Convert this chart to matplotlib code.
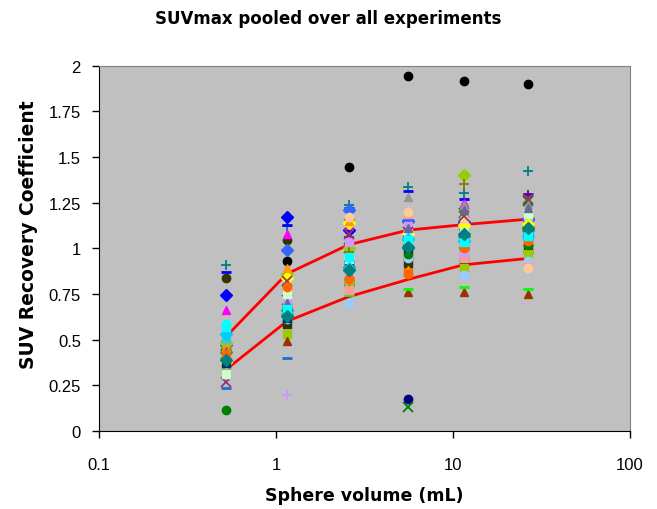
import numpy as np
import matplotlib.pyplot as plt

plt.rcParams['font.family'] = ['Liberation Sans', 'DejaVu Sans']

# sphere volumes (mL)
volumes = [0.52, 1.15, 2.57, 5.58, 11.49, 26.52]

# red envelope lines
upper_line = [0.515, 0.86, 1.02, 1.10, 1.13, 1.16]
lower_line = [0.335, 0.60, 0.735, 0.83, 0.91, 0.945]

# recovery coefficients per experiment, one value per sphere
exp01 = [0.47, 0.93, 1.445, 1.945, 1.915, 1.90]
exp02 = [0.91, 1.125, 1.24, 1.335, 1.305, 1.425]
exp03 = [0.87, 1.13, 1.22, 1.315, 1.27, 1.30]
exp04 = [0.235, 0.40, 0.80, 0.95, 1.00, 1.05]
exp05 = [0.84, 1.047, 1.16, 1.07, 1.10, 1.02]
exp06 = [0.745, 1.17, 1.10, 1.15, 1.145, 1.16]
exp07 = [0.47, 0.99, 1.21, 1.15, 1.14, 1.16]
exp08 = [0.66, 1.08, 1.13, 1.12, 1.25, 1.20]
exp09 = [0.586, 0.70, 0.96, 1.05, 1.037, 1.07]
exp10 = [0.55, 0.88, 1.16, 1.12, 1.12, 1.135]
exp11 = [0.49, 0.83, 1.06, 1.09, 1.10, 1.29]
exp12 = [0.45, 0.78, 0.82, 0.87, 1.005, 1.05]
exp13 = [0.40, 0.74, 0.96, 1.03, 1.08, 1.20]
exp14 = [0.43, 0.66, 0.90, 1.00, 1.07, 1.10]
exp15 = [0.395, 0.586, 0.82, 0.92, 0.93, 0.99]
exp16 = [0.34, 0.53, 0.80, 0.96, 0.89, 0.97]
exp17 = [0.36, 0.495, 0.78, 0.76, 0.76, 0.75]
exp18 = [0.32, 0.60, 0.745, 0.78, 0.79, 0.78]
exp19 = [0.28, 0.615, 0.70, 0.95, 0.855, 0.93]
exp20 = [0.29, 0.197, 1.035, 1.09, 0.98, 1.10]
exp21 = [0.117, 0.65, 0.88, 0.97, 1.00, 1.02]
exp22 = [0.38, 0.68, 0.93, 0.175, 1.07, 1.08]
exp23 = [0.42, 0.72, 1.00, 0.13, 1.195, 1.26]
exp24 = [0.36, 0.76, 0.77, 1.28, 1.235, 1.235]
exp25 = [0.48, 0.86, 1.00, 1.05, 1.40, 1.12]
exp26 = [0.44, 0.80, 0.98, 1.02, 1.35, 1.14]
exp27 = [0.30, 0.69, 0.77, 1.19, 0.95, 0.90]
exp28 = [0.52, 0.72, 1.035, 1.12, 0.98, 1.18]
exp29 = [0.50, 0.64, 0.92, 1.04, 1.07, 1.10]
exp30 = [0.38, 0.84, 1.14, 1.08, 1.13, 1.135]
exp31 = [0.46, 0.89, 1.15, 0.88, 1.01, 1.06]
exp32 = [0.37, 0.62, 0.91, 1.00, 1.06, 1.09]
exp33 = [0.41, 0.77, 1.17, 1.20, 1.16, 0.89]
exp34 = [0.27, 0.82, 1.08, 1.09, 1.18, 1.27]
exp35 = [0.31, 0.75, 0.94, 1.06, 1.09, 1.19]
exp36 = [0.53, 0.64, 0.89, 1.05, 1.04, 1.07]
exp37 = [0.44, 0.70, 0.86, 1.11, 1.21, 1.22]
exp38 = [0.42, 0.79, 0.83, 0.86, 1.00, 1.04]
exp39 = [0.57, 0.67, 0.955, 1.045, 1.035, 1.07]
exp40 = [0.39, 0.63, 0.88, 1.01, 1.08, 1.11]

experiments = [exp01, exp02, exp03, exp04, exp05, exp06, exp07, exp08, exp09,
               exp10, exp11, exp12, exp13, exp14, exp15, exp16, exp17, exp18,
               exp19, exp20, exp21, exp22, exp23, exp24, exp25, exp26, exp27,
               exp28, exp29, exp30, exp31, exp32, exp33, exp34, exp35, exp36,
               exp37, exp38, exp39, exp40]

styles = [
    ('o', '#000000'), ('+', '#008080'), ('_', '#0000FF'), ('_', '#1E6ED0'),
    ('o', '#333300'), ('D', '#0000FF'), ('D', '#3366FF'), ('^', '#FF00FF'),
    ('o', '#00FFFF'), ('^', '#FFCC00'), ('+', '#800080'), ('s', '#FF6600'),
    ('s', '#CCFFFF'), ('D', '#339966'), ('s', '#333300'), ('s', '#99CC00'),
    ('^', '#993300'), ('_', '#00FF00'), ('o', '#99CCFF'), ('+', '#CC99FF'),
    ('o', '#008000'), ('o', '#000080'), ('x', '#008000'), ('^', '#969696'),
    ('D', '#99CC00'), ('+', '#808000'), ('s', '#FF9999'), ('s', '#CC99FF'),
    ('o', '#33CCCC'), ('D', '#FFFF00'), ('^', '#FF9900'), ('s', '#003366'),
    ('o', '#FFCC99'), ('x', '#993366'), ('s', '#CCFFCC'), ('D', '#00CCFF'),
    ('^', '#666699'), ('o', '#FF6600'), ('s', '#00FFFF'), ('D', '#008080'),
]

fig = plt.figure(figsize=(6.57, 5.10), dpi=100)
ax = fig.add_axes([0.1507, 0.153, 0.808, 0.716])
ax.set_facecolor('#C0C0C0')

ax.plot(volumes, upper_line, color='#FF0000', lw=2, zorder=2)
ax.plot(volumes, lower_line, color='#FF0000', lw=2, zorder=2)

for vals, (m, c) in zip(experiments, styles):
    if m in ('_', '+', 'x'):
        ax.plot(volumes, vals, ls='none', marker=m, color=c, ms=7.5,
                mew=2 if m == '_' else 1.3, zorder=3)
    else:
        ax.plot(volumes, vals, ls='none', marker=m, color=c, ms=6,
                mec=c, zorder=3)

ax.set_xscale('log')
ax.set_xlim(0.1, 100)
ax.set_ylim(0, 2)
ax.set_xticks([0.1, 1, 10, 100])
ax.set_xticklabels(['0.1', '1', '10', '100'])
ax.xaxis.set_minor_locator(plt.NullLocator())
ax.set_yticks([0, 0.25, 0.5, 0.75, 1, 1.25, 1.5, 1.75, 2])
ax.set_yticklabels(['0', '0.25', '0.5', '0.75', '1', '1.25', '1.5', '1.75', '2'])
ax.tick_params(direction='out', length=5, width=1, labelsize=12, colors='black')
ax.tick_params(axis='y', pad=8)
ax.tick_params(axis='x', pad=14)

for s in ('top', 'right'):
    ax.spines[s].set_color('#808080')
for s in ('left', 'bottom'):
    ax.spines[s].set_color('black')

fig.text(0.5, 0.962, 'SUVmax pooled over all experiments', ha='center',
         va='center', fontsize=12, fontweight='bold', family='DejaVu Sans')
ax.set_xlabel('Sphere volume (mL)', fontsize=12.5, fontweight='bold',
              family='DejaVu Sans', labelpad=10)
fig.text(0.044, 0.54, 'SUV Recovery Coefficient', rotation=90, ha='center',
         va='center', fontsize=13.5, fontweight='bold', family='DejaVu Sans')

fig.savefig('out.png', dpi=100)
